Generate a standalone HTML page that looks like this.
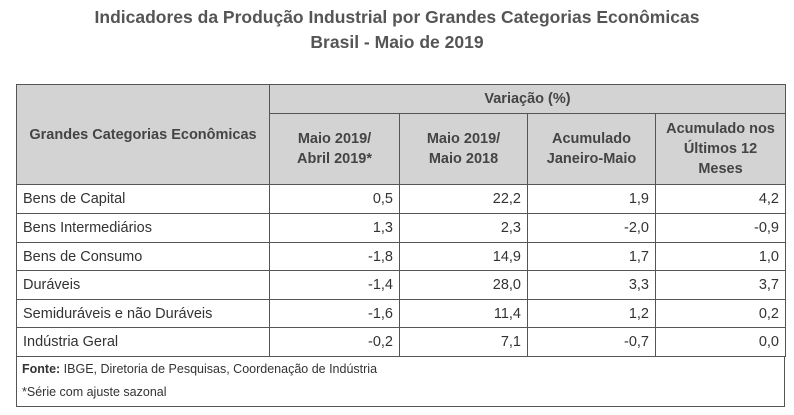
<!DOCTYPE html>
<html><head><meta charset="utf-8"><style>
body{margin:0;width:794px;height:415px;background:#fff;font-family:"Liberation Sans","DejaVu Sans",sans-serif;color:#333;position:relative;overflow:hidden}
.t{position:absolute;left:0;width:794px;text-align:center;font-weight:bold;font-size:17.5px;color:#555}
.c{position:absolute;box-sizing:border-box;border:1px solid #555;font-size:14.5px;display:flex;align-items:center}
.h{background:#d3d3d3;font-weight:bold;justify-content:center;text-align:center;color:#444;line-height:20px}
.l{padding-left:6px}
.r{justify-content:flex-end;padding-right:6px}
.f{position:absolute;font-size:12.5px;left:22px}
</style></head><body>
<div class="t" style="top:7px">Indicadores da Produção Industrial por Grandes Categorias Econômicas</div>
<div class="t" style="top:32px">Brasil - Maio de 2019</div>
<div id="tbl"></div>
<div class="c" style="left:16px;top:356px;width:769px;height:51px"></div>
<div class="f" style="top:362px"><b>Fonte:</b> IBGE, Diretoria de Pesquisas, Coordenação de Indústria</div>
<div class="f" style="top:385px">*Série com ajuste sazonal</div>
<script>
const categories=["Bens de Capital","Bens Intermediários","Bens de Consumo","Duráveis","Semiduráveis e não Duráveis","Indústria Geral"];
const momValues=["0,5","1,3","-1,8","-1,4","-1,6","-0,2"];
const yoyValues=["22,2","2,3","14,9","28,0","11,4","7,1"];
const ytdValues=["1,9","-2,0","1,7","3,3","1,2","-0,7"];
const ttmValues=["4,2","-0,9","1,0","3,7","0,2","0,0"];
const colHeaders=["Maio 2019/<br>Abril 2019*","Maio 2019/<br>Maio 2018","Acumulado<br>Janeiro-Maio","Acumulado nos<br>Últimos 12<br>Meses"];
const tbl=document.getElementById('tbl');
const xs=[16,269,399,527,655,785];
const rowTops=[184,213,242,270,299,327,356];
function cell(x,y,w,h,cls,html){const d=document.createElement('div');d.className='c '+cls;d.style.left=x+'px';d.style.top=y+'px';d.style.width=(w+1)+'px';d.style.height=(h+1)+'px';d.innerHTML=html;tbl.appendChild(d);return d;}
let e=cell(16,84,253,100,'h','Grandes Categorias Econômicas');


e=cell(269,84,516,29,'h','Variação (%)');


colHeaders.forEach((t,i)=>{const d=cell(xs[i+1],113,xs[i+2]-xs[i+1],71,'h',t);

});
const cols=[momValues,yoyValues,ytdValues,ttmValues];
categories.forEach((c,r)=>{const y=rowTops[r],h=rowTops[r+1]-y;
const d=cell(16,y,253,h,'l',c);


cols.forEach((arr,i)=>{const v=cell(xs[i+1],y,xs[i+2]-xs[i+1],h,'r',arr[r]);

});});
</script>
</body></html>
